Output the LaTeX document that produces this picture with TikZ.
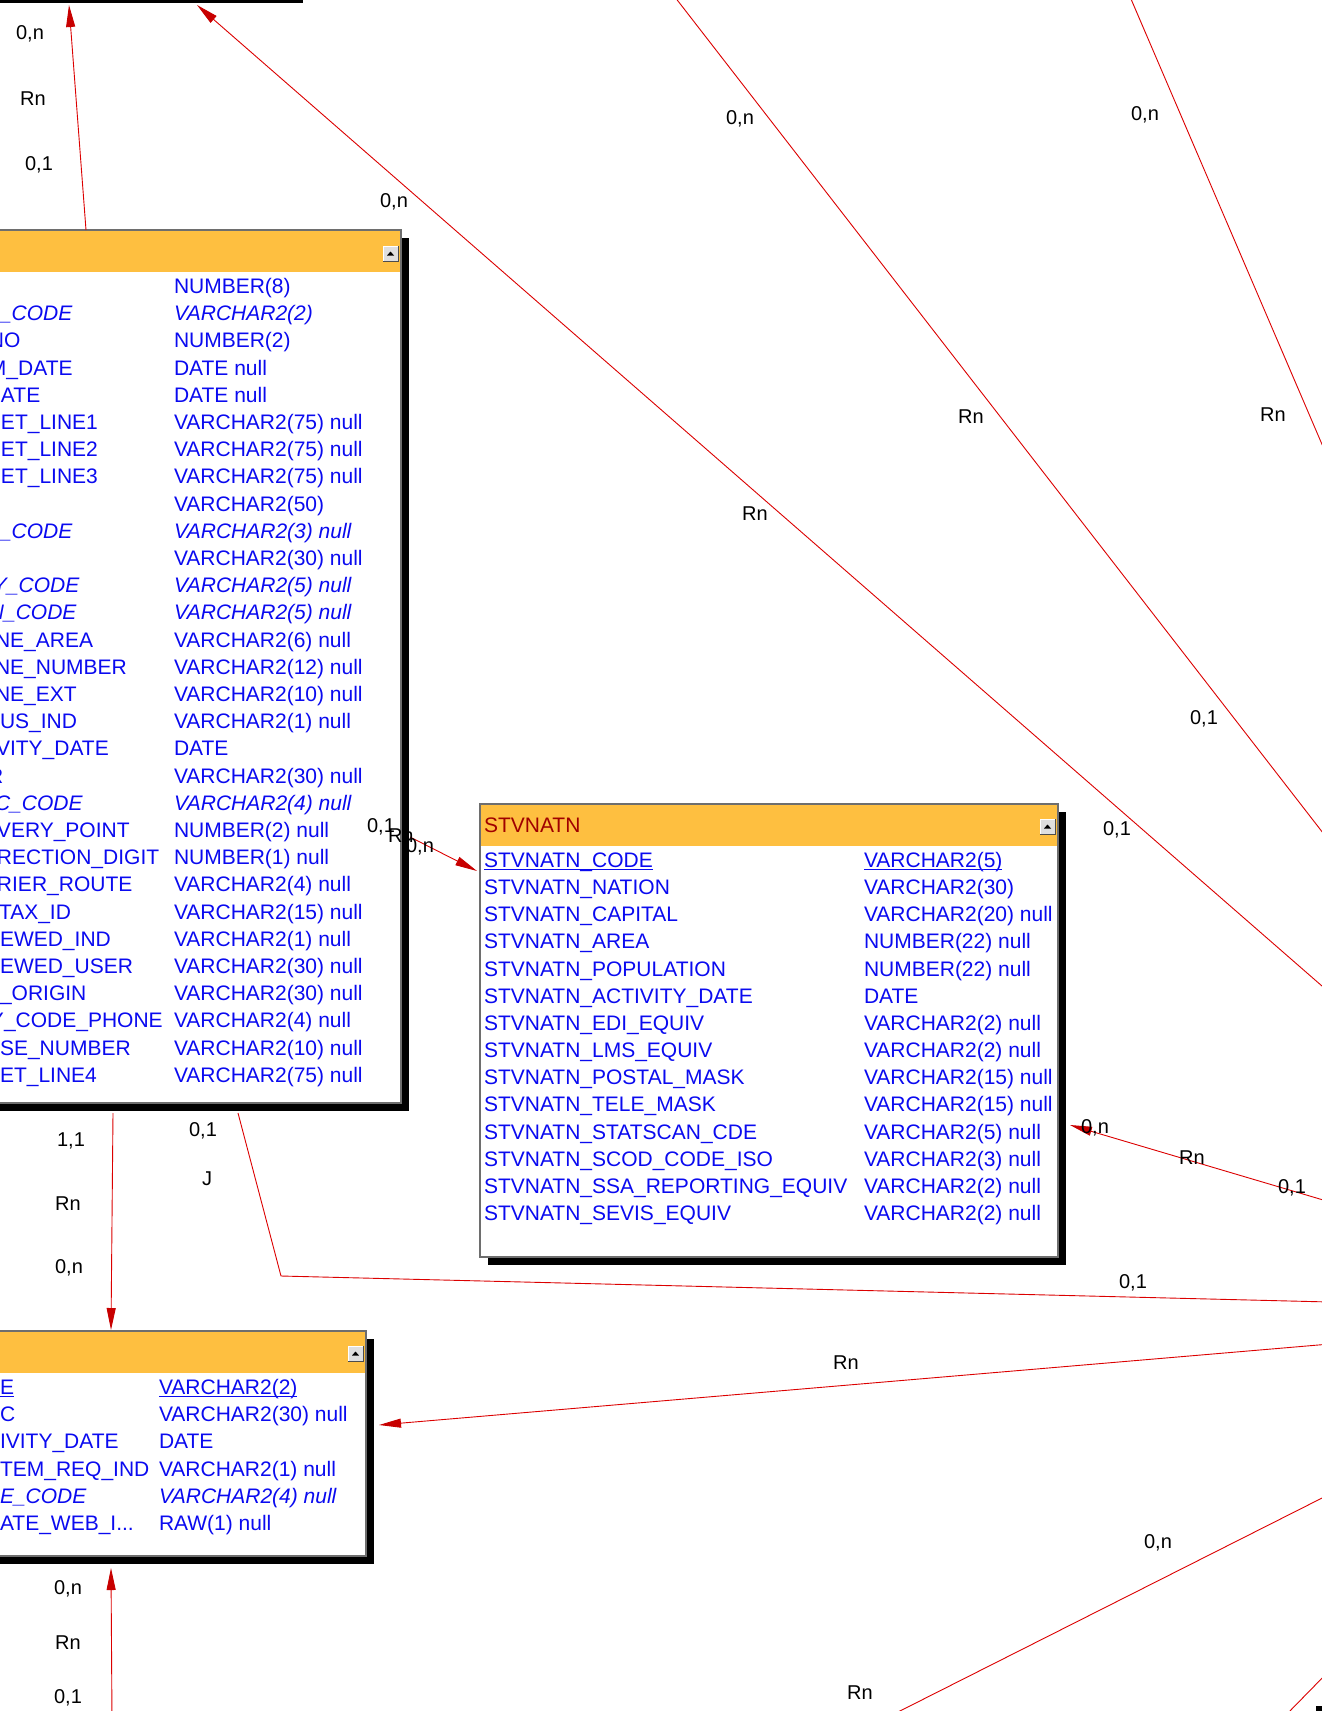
\documentclass[tikz,border=0pt]{standalone}
\usepackage{fontspec}
\setmainfont{Liberation Sans}
\usetikzlibrary{arrows.meta}
\definecolor{tblue}{RGB}{10,10,240}
\definecolor{hdrorange}{RGB}{254,191,64}
\definecolor{linered}{RGB}{220,0,0}
\definecolor{arrred}{RGB}{200,0,0}
\definecolor{ttlred}{RGB}{160,0,0}
\definecolor{frameg}{RGB}{110,110,110}
\newcommand\tfont{\fontsize{21}{25}\selectfont}
\newcommand\lfont{\fontsize{20}{24}\selectfont}
\newcommand\tdots{...}
\newcommand\ulx[1]{\setbox0\hbox{#1}\rlap{\rule[-2.4pt]{\wd0}{1.3pt}}\box0}
\newcommand\tblbtn[3]{%
  \node[btnbox] (#1) at (#2,#3) {};
  \draw[white, line width=1pt] (#1.south west) -- (#1.north west) -- (#1.north east);
  \draw[gray!60!black, line width=1pt] (#1.north east) -- (#1.south east) -- (#1.south west);
  \fill[black] (#2+4,#3+9.5) -- (#2+11,#3+9.5) -- (#2+7.5,#3+5.5) -- cycle;}
\begin{document}
\begin{tikzpicture}[x=1pt,y=-1pt,
  cell/.style={anchor=base west, inner sep=0pt, outer sep=0pt, text=tblue, font=\tfont},
  rowit/.style={font=\tfont\itshape},
  rowup/.style={},
  lbl/.style={anchor=base, inner sep=0pt, outer sep=0pt, font=\lfont, text=black},
  shadowbox/.style={fill=black, draw=none, inner sep=0pt, outer sep=0pt, anchor=north west},
  framebox/.style={fill=white, draw=none, inner sep=0pt, outer sep=0pt, anchor=north west},
  hdrbox/.style={fill=hdrorange, draw=none, inner sep=0pt, outer sep=0pt, anchor=north west},
  btnbox/.style={fill=gray!25, draw=none, inner sep=0pt, outer sep=0pt, minimum size=15pt, anchor=north west},
  conn/.style={draw=linered, line width=0.9pt},
  arr/.style={conn, -{Triangle[length=22pt,width=9pt,color=arrred,fill=arrred]}},
  border/.style={draw=frameg, line width=1.2pt},
]
\fill[white] (0,0) rectangle (1322,1711);
\useasboundingbox (0,0) rectangle (1322,1711);

% ---------- black pieces of tables outside the view
\node[shadowbox, minimum width=333pt, minimum height=23pt, anchor=south west] (ttop) at (-30,3) {};
\node[shadowbox, minimum width=30pt, minimum height=30pt] (tbr) at (1316,1706) {};

% ---------- table 1 (left, top)
\node[shadowbox, minimum width=431pt, minimum height=873pt] (t1s) at (-22,238) {};
\node[framebox, minimum width=431pt, minimum height=873pt] (t1) at (-30,230) {};
\node[hdrbox, minimum width=431pt, minimum height=42pt] (t1h) at (-30,230) {};
\draw[border] (t1.north west) rectangle (t1.south east);
\tblbtn{t1b}{383}{246}
\foreach \xo/\ca/\cb/\sty [count=\i] in {
0//NUMBER(8)/rowup,
0/\_CODE/VARCHAR2(2)/rowit,
-11/NO/NUMBER(2)/rowup,
-11/M\_DATE/DATE null/rowup,
1/ATE/DATE null/rowup,
1/ET\_LINE1/VARCHAR2(75) null/rowup,
1/ET\_LINE2/VARCHAR2(75) null/rowup,
1/ET\_LINE3/VARCHAR2(75) null/rowup,
0//VARCHAR2(50)/rowup,
0/\_CODE/VARCHAR2(3) null/rowit,
0//VARCHAR2(30) null/rowup,
-7/Y\_CODE/VARCHAR2(5) null/rowit,
-11/N\_CODE/VARCHAR2(5) null/rowit,
-5/NE\_AREA/VARCHAR2(6) null/rowup,
-5/NE\_NUMBER/VARCHAR2(12) null/rowup,
-5/NE\_EXT/VARCHAR2(10) null/rowup,
0/US\_IND/VARCHAR2(1) null/rowup,
-4/VITY\_DATE/DATE/rowup,
-12/R/VARCHAR2(30) null/rowup,
-5/C\_CODE/VARCHAR2(4) null/rowit,
-3/VERY\_POINT/NUMBER(2) null/rowup,
-3/RECTION\_DIGIT/NUMBER(1) null/rowup,
-3/RIER\_ROUTE/VARCHAR2(4) null/rowup,
-1/TAX\_ID/VARCHAR2(15) null/rowup,
0/EWED\_IND/VARCHAR2(1) null/rowup,
0/EWED\_USER/VARCHAR2(30) null/rowup,
0/\_ORIGIN/VARCHAR2(30) null/rowup,
-10/Y\_CODE\_PHONE/VARCHAR2(4) null/rowup,
0/SE\_NUMBER/VARCHAR2(10) null/rowup,
0/ET\_LINE4/VARCHAR2(75) null/rowup}
{
  \node[cell,\sty] (ra\i) at (\xo, {266.3+27.2*\i}) {\ca};
  \node[cell,\sty] (rb\i) at (174, {266.3+27.2*\i}) {\cb};
}

% ---------- STVNATN
\node[shadowbox, minimum width=578pt, minimum height=453pt] (t2s) at (488,812) {};
\node[framebox, minimum width=578pt, minimum height=453pt] (t2) at (480,804) {};
\node[hdrbox, minimum width=578pt, minimum height=42pt] (t2h) at (480,804) {};
\draw[border] (t2.north west) rectangle (t2.south east);
\node[cell, text=ttlred] (t2title) at (484,832.5) {STVNATN};
\tblbtn{t2b}{1040}{819}
\foreach \ca/\cb [count=\i] in {
{\ulx{STVNATN\_CODE}}/{\ulx{VARCHAR2(5)}},
STVNATN\_NATION/VARCHAR2(30),
STVNATN\_CAPITAL/VARCHAR2(20) null,
STVNATN\_AREA/NUMBER(22) null,
STVNATN\_POPULATION/NUMBER(22) null,
STVNATN\_ACTIVITY\_DATE/DATE,
STVNATN\_EDI\_EQUIV/VARCHAR2(2) null,
STVNATN\_LMS\_EQUIV/VARCHAR2(2) null,
STVNATN\_POSTAL\_MASK/VARCHAR2(15) null,
STVNATN\_TELE\_MASK/VARCHAR2(15) null,
STVNATN\_STATSCAN\_CDE/VARCHAR2(5) null,
STVNATN\_SCOD\_CODE\_ISO/VARCHAR2(3) null,
STVNATN\_SSA\_REPORTING\_EQUIV/VARCHAR2(2) null,
STVNATN\_SEVIS\_EQUIV/VARCHAR2(2) null}
{
  \node[cell] (na\i) at (484, {840.35+27.15*\i}) {\ca};
  \node[cell] (nb\i) at (864, {840.35+27.15*\i}) {\cb};
}

% ---------- table 3 (left, bottom)
\node[shadowbox, minimum width=396pt, minimum height=225pt] (t3s) at (-22,1339) {};
\node[framebox, minimum width=396pt, minimum height=225pt] (t3) at (-30,1331) {};
\node[hdrbox, minimum width=396pt, minimum height=42pt] (t3h) at (-30,1331) {};
\draw[border] (t3.north west) rectangle (t3.south east);
\tblbtn{t3b}{348}{1346}
\foreach \xo/\ca/\cb/\sty [count=\i] in {
0/{\ulx{E}}/{\ulx{VARCHAR2(2)}}/rowup,
0/C/VARCHAR2(30) null/rowup,
0/IVITY\_DATE/DATE/rowup,
0/TEM\_REQ\_IND/VARCHAR2(1) null/rowup,
0/E\_CODE/VARCHAR2(4) null/rowit,
0/{ATE\_WEB\_I\tdots}/RAW(1) null/rowup}
{
  \node[cell,\sty] (sa\i) at (\xo, {1367.3+27.2*\i}) {\ca};
  \node[cell,\sty] (sb\i) at (159, {1367.3+27.2*\i}) {\cb};
}

% ---------- connector end points
\coordinate (A1) at (86,230);   \coordinate (A2) at (69,5);
\coordinate (B1) at (1330,993); \coordinate (B2) at (197,5);
\coordinate (C1) at (671,-8);   \coordinate (C2) at (1330,842);
\coordinate (D1) at (1128,-8);  \coordinate (D2) at (1330,463);
\coordinate (E1) at (410,837);  \coordinate (E2) at (477,871);
\coordinate (F1) at (113,1113); \coordinate (F2) at (111,1330);
\coordinate (G1) at (238,1113); \coordinate (G2) at (281,1276); \coordinate (G3) at (1330,1302);
\coordinate (H1) at (1330,1344); \coordinate (H2) at (379,1425);
\coordinate (I1) at (1330,1202); \coordinate (I2) at (1070,1125);
\coordinate (J1) at (1330,1494); \coordinate (J2) at (890,1716);
\coordinate (K1) at (1330,1670); \coordinate (K2) at (1284,1717);
\coordinate (L1) at (112,1720); \coordinate (L2) at (111,1568);

% ---------- connectors
\draw[arr] (A1) -- (A2);
\draw[arr] (B1) -- (B2);
\draw[conn] (C1) -- (C2);
\draw[conn] (D1) -- (D2);
\draw[arr] (E1) -- (E2);
\draw[arr] (F1) -- (F2);
\draw[conn] (G1) -- (G2) -- (G3);
\draw[arr] (H1) -- (H2);
\draw[arr] (I1) -- (I2);
\draw[conn] (J1) -- (J2);
\draw[conn] (K1) -- (K2);
\draw[arr] (L1) -- (L2);

% ---------- labels
\node[lbl] (la1) at (30,39) {0,n};
\node[lbl] (la2) at (33,105) {Rn};
\node[lbl] (la3) at (39,170) {0,1};
\node[lbl] (lb1) at (394,207) {0,n};
\node[lbl] (lb2) at (755,520) {Rn};
\node[lbl] (lb3) at (1117,835) {0,1};
\node[lbl] (lc1) at (740,124) {0,n};
\node[lbl] (lc2) at (971,423) {Rn};
\node[lbl] (lc3) at (1204,724) {0,1};
\node[lbl] (ld1) at (1145,120) {0,n};
\node[lbl] (ld2) at (1273,421) {Rn};
\node[lbl] (le1) at (381,832) {0,1};
\node[lbl, anchor=base west] (le2) at (388,842) {Rn};
\node[lbl] (le3) at (420,852) {0,n};
\node[lbl] (lf1) at (71,1146) {1,1};
\node[lbl] (lf2) at (68,1210) {Rn};
\node[lbl] (lf3) at (69,1273) {0,n};
\node[lbl] (lg1) at (203,1136) {0,1};
\node[lbl] (lg2) at (207,1185) {J};
\node[lbl] (lg3) at (1133,1288) {0,1};
\node[lbl] (lh1) at (846,1369) {Rn};
\node[lbl] (li1) at (1095,1133) {0,n};
\node[lbl] (li2) at (1192,1164) {Rn};
\node[lbl] (li3) at (1292,1193) {0,1};
\node[lbl] (lj1) at (1158,1548) {0,n};
\node[lbl] (lj2) at (860,1699) {Rn};
\node[lbl] (ll1) at (68,1594) {0,n};
\node[lbl] (ll2) at (68,1649) {Rn};
\node[lbl] (ll3) at (68,1703) {0,1};
\end{tikzpicture}
\end{document}
